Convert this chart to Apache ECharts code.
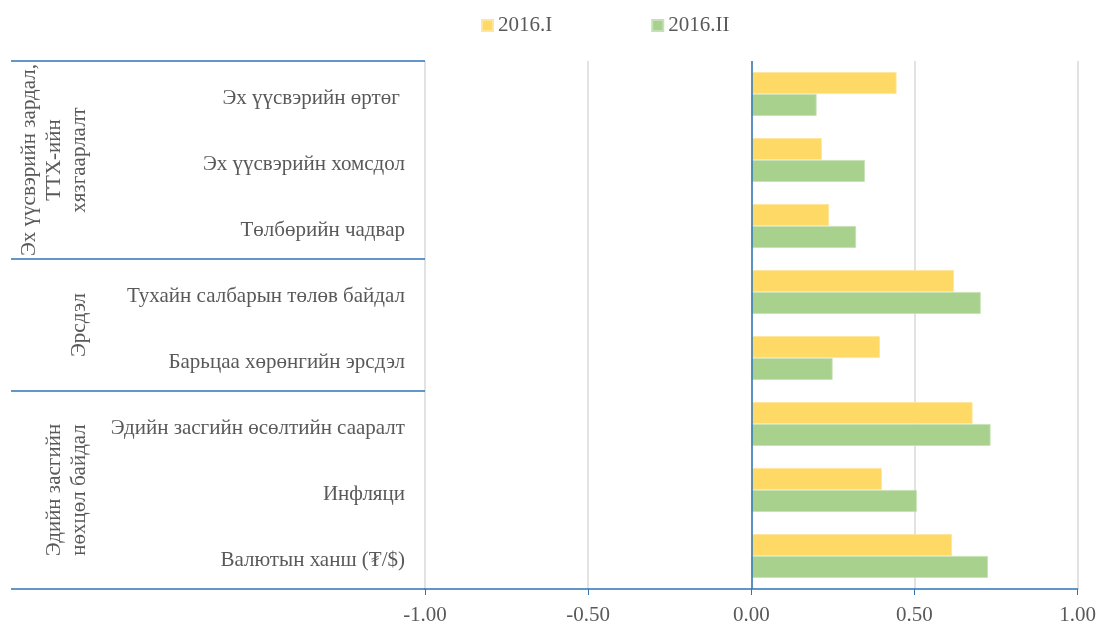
<!DOCTYPE html>
<html>
<head>
<meta charset="utf-8">
<script src="https://cdn.jsdelivr.net/npm/echarts@6/dist/echarts.min.js"></script>
<style>
  html, body { margin: 0; padding: 0; background: #fff; }
  #chart { width: 1099px; height: 626px; }
</style>
</head>
<body>
<div id="chart"></div>
<script>
  // categories, top to bottom
  var categories = [
    'Эх үүсвэрийн өртөг ',
    'Эх үүсвэрийн хомсдол',
    'Төлбөрийн чадвар',
    'Тухайн салбарын төлөв байдал',
    'Барьцаа хөрөнгийн эрсдэл',
    'Эдийн засгийн өсөлтийн сааралт',
    'Инфляци',
    'Валютын ханш (₮/$)'
  ];
  var seriesNames = ['2016.I', '2016.II'];
  var values2016I = [0.445, 0.216, 0.238, 0.621, 0.394, 0.678, 0.400, 0.615];
  var values2016II = [0.200, 0.348, 0.321, 0.703, 0.249, 0.733, 0.507, 0.725];
  // group labels on the left: [text, first index, last index]
  var groups = [
    ['Эх үүсвэрийн зардал,\nТТХ-ийн\nхязгаарлалт', 0, 2],
    ['Эрсдэл', 3, 4],
    ['Эдийн засгийн\nнөхцөл байдал', 5, 7]
  ];

  var font = '"Liberation Serif", "Times New Roman", "DejaVu Serif", serif';
  var textColor = '#595959';
  var blue = '#2E75B6';

  var chart = echarts.init(document.getElementById('chart'));
  chart.setOption({
    animation: false,
    textStyle: { fontFamily: font },
    legend: {
      data: seriesNames,
      left: 481,
      top: 15,
      padding: 0,
      icon: 'rect',
      itemWidth: 11,
      itemHeight: 11,
      itemGap: 99,
      textStyle: { fontSize: 21, color: textColor, fontFamily: font }
    },
    grid: { left: 425, right: 21, top: 61, bottom: 35 },
    xAxis: {
      type: 'value',
      min: -1,
      max: 1,
      interval: 0.5,
      axisLine: { show: true, lineStyle: { color: blue, width: 1.5 } },
      axisTick: { show: true, length: 6, lineStyle: { color: blue } },
      axisLabel: {
        fontSize: 21, color: textColor, fontFamily: font, margin: 16,
        formatter: function (v) { return v.toFixed(2); }
      },
      splitLine: { show: true, lineStyle: { color: '#D9D9D9', width: 1.5 } }
    },
    yAxis: {
      type: 'category',
      inverse: true,
      data: categories,
      axisLine: { show: false },
      axisTick: { show: false },
      axisLabel: {
        margin: 20,
        formatter: function (v) { return '{a|' + v + '}'; },
        rich: {
          a: { fontSize: 21, color: textColor, fontFamily: font, padding: [8, 0, 0, 0] }
        }
      }
    },
    series: [
      {
        name: seriesNames[0],
        type: 'bar',
        data: values2016I,
        barGap: '0%',
        barCategoryGap: '33.6%',
        itemStyle: { color: '#FFD966', borderColor: '#FFE699', borderWidth: 0.8 },
        markLine: {
          silent: true,
          symbol: ['none', 'none'],
          label: { show: false },
          lineStyle: { color: blue, type: 'solid', width: 1.5 },
          data: [{ xAxis: 0 }]
        }
      },
      {
        name: seriesNames[1],
        type: 'bar',
        data: values2016II,
        itemStyle: { color: '#A9D18E', borderColor: '#C5E0B4', borderWidth: 0.8 }
      }
    ]
  });

  // separator lines and rotated group labels on the left
  var c0 = chart.convertToPixel({ yAxisIndex: 0 }, 0);
  var c1 = chart.convertToPixel({ yAxisIndex: 0 }, 1);
  var band = c1 - c0;
  var xLeft = 11, xRight = 425;
  var elements = [];
  var bounds = [c0 - band / 2];
  groups.forEach(function (g) {
    var top = chart.convertToPixel({ yAxisIndex: 0 }, g[1]) - band / 2;
    var bottom = chart.convertToPixel({ yAxisIndex: 0 }, g[2]) + band / 2;
    bounds.push(bottom);
    elements.push({
      type: 'text',
      x: 92,
      y: (top + bottom) / 2,
      rotation: Math.PI / 2,
      style: {
        text: g[0],
        font: '21px ' + font,
        fill: textColor,
        align: 'center',
        verticalAlign: 'bottom',
        lineHeight: 25
      }
    });
  });
  bounds.forEach(function (y) {
    elements.push({
      type: 'line',
      shape: { x1: xLeft, y1: y, x2: xRight, y2: y },
      style: { stroke: blue, lineWidth: 1.5 }
    });
  });
  chart.setOption({ graphic: { elements: elements } });
</script>
</body>
</html>
